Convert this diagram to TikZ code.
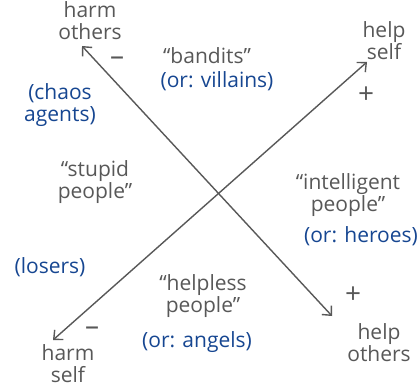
\documentclass[tikz,border=0pt]{standalone}
\usepackage{fontspec}
\setmainfont{Open Sans}
\usetikzlibrary{arrows.meta,positioning}
\definecolor{pencil}{RGB}{88,88,88}
\definecolor{inkblue}{RGB}{22,70,145}

\begin{document}
\begin{tikzpicture}[x=1pt, y=-1pt,
  font=\fontsize{21}{22}\selectfont,
  lbl/.style={text=pencil, align=center, inner sep=1pt},
  alt/.style={text=inkblue, align=center, inner sep=1pt},
  sign/.style={text=pencil, inner sep=0pt, font=\fontsize{28}{28}\selectfont},
  arr/.style={{Straight Barb[length=7pt,width=13pt]}-{Straight Barb[length=7pt,width=13pt]},
    draw=pencil, line width=1.4pt, line cap=round}]
  \useasboundingbox (0,0) rectangle (419,387);
  % axis ends
  \coordinate (harmothersend) at (82,46);
  \coordinate (helpothersend) at (332,316);
  \coordinate (harmselfend) at (53,340);
  \coordinate (helpselfend) at (367,62);
  \draw[arr] (harmothersend) -- (helpothersend);
  \draw[arr] (harmselfend) -- (helpselfend);
  % axis labels
  \node[lbl] (harmothers) at (90,21) {harm\\others};
  \node[sign] (minustop) at (117,61) {–};
  \node[lbl] (helpself) at (384,41) {help\\self};
  \node[sign] (plustop) at (366,95) {+};
  \node[lbl] (harmself) at (68,364) {harm\\self};
  \node[sign] (minusbot) at (92,331) {–};
  \node[lbl] (helpothers) at (379,343) {help\\others};
  \node[sign] (plusbot) at (353,295) {+};
  % quadrants
  \node[lbl] (bandits) at (207,56) {“bandits”};
  \node[alt] (villains) at (217,81) {(or: villains)};
  \node[alt] (chaos) at (60,105) {(chaos\\agents)};
  \node[lbl] (stupid) at (95,182) {“stupid\\people”};
  \node[alt] (losers) at (50,267) {(losers)};
  \node[lbl] (intelligent) at (348,195) {“intelligent\\people”};
  \node[alt] (heroes) at (361,236) {(or: heroes)};
  \node[lbl] (helpless) at (203,296) {“helpless\\people”};
  \node[alt] (angels) at (197,342) {(or: angels)};
\end{tikzpicture}
\end{document}
